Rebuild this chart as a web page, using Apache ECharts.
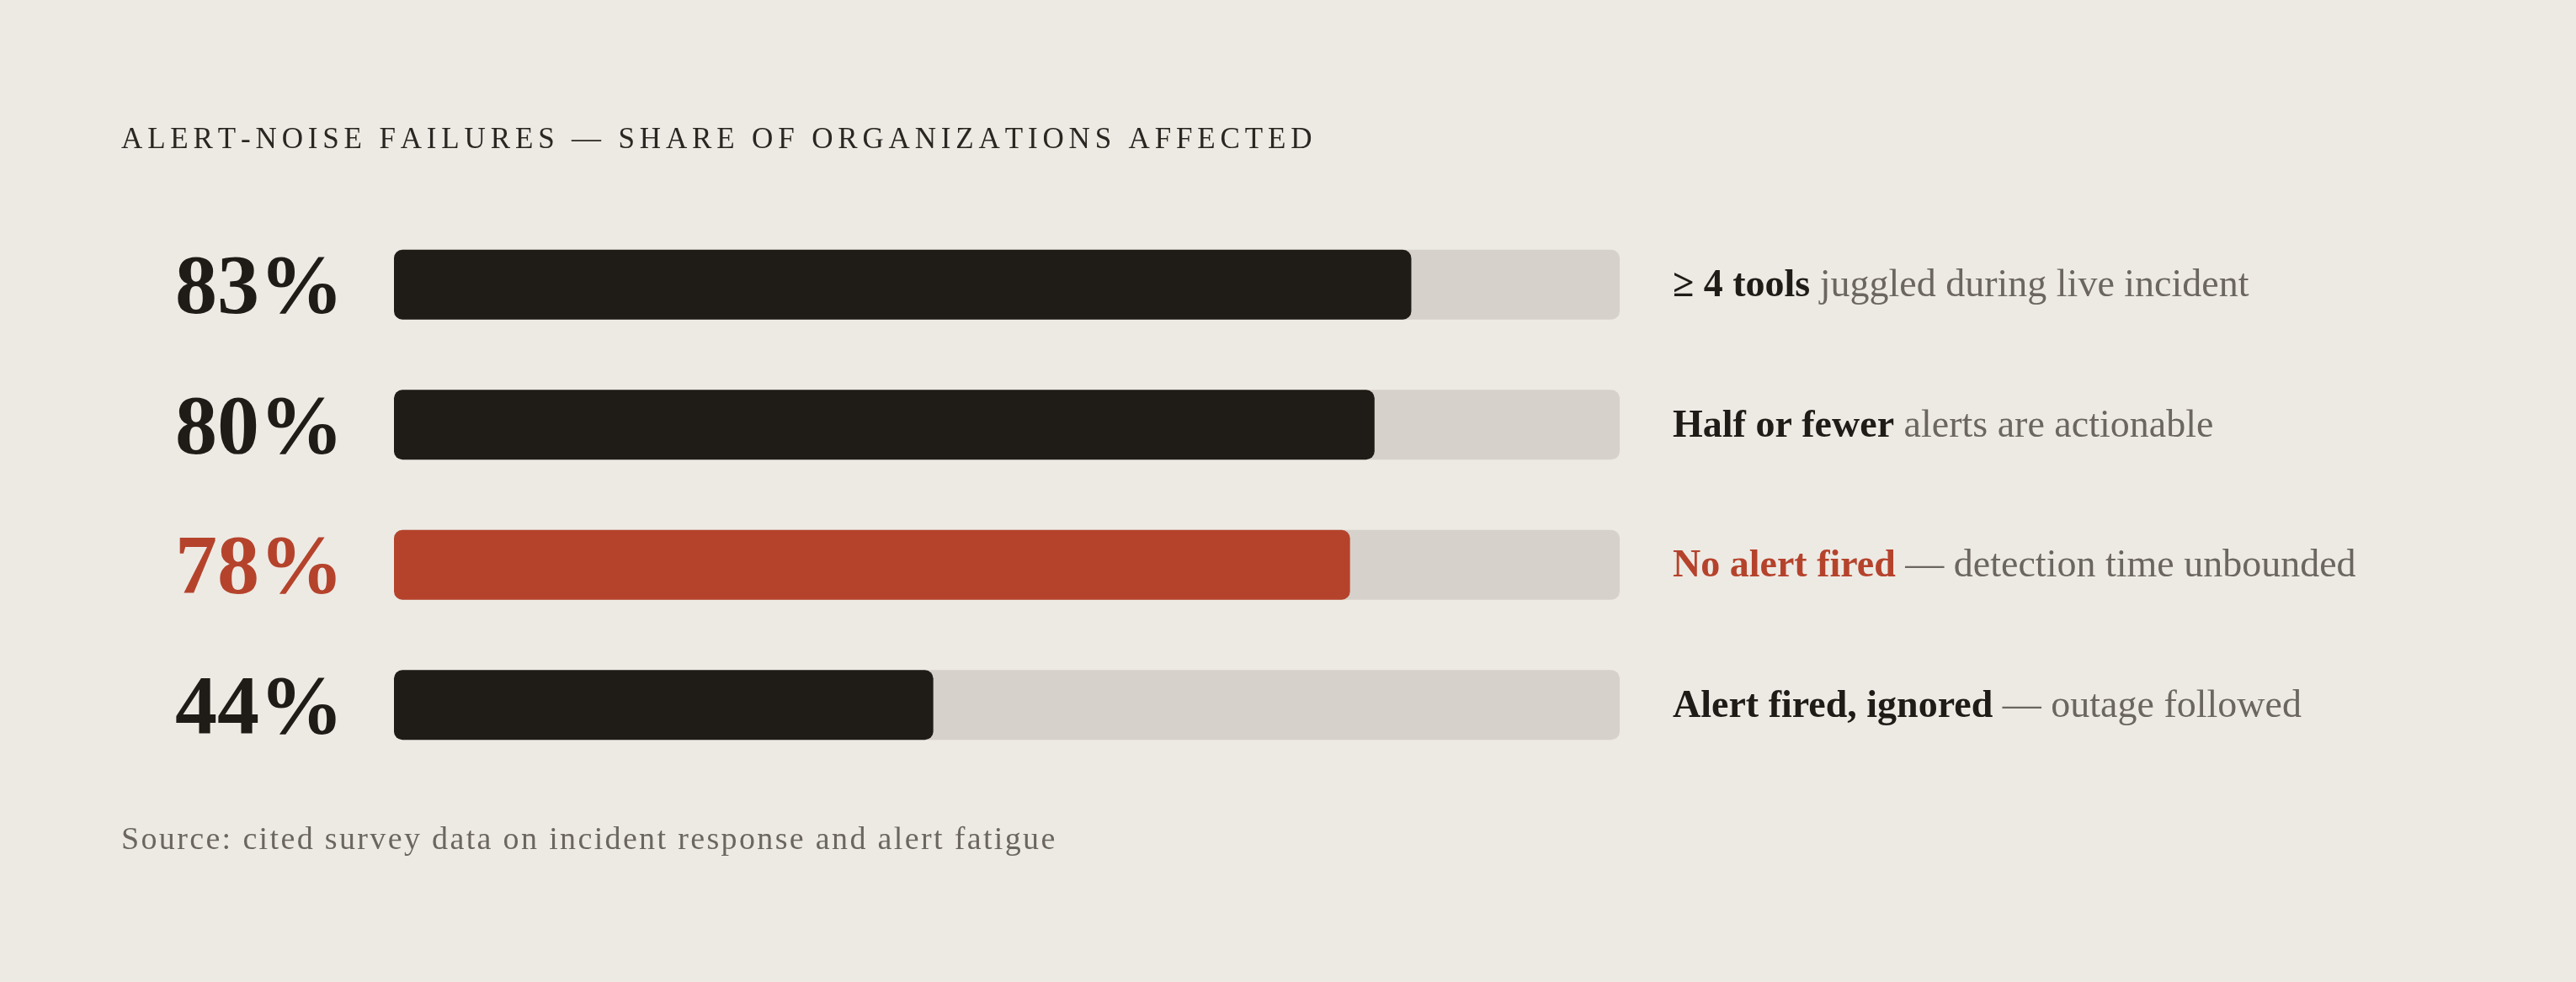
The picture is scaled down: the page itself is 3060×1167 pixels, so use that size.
<!DOCTYPE html>
<html>
<head>
<meta charset="utf-8">
<script src="https://cdn.jsdelivr.net/npm/echarts@6/dist/echarts.min.js"></script>
<style>
  html, body { margin: 0; padding: 0; background: #edeae4; }
  #chart { width: 3060px; height: 1167px; }
</style>
</head>
<body>
<div id="chart"></div>
<script>
// data
const categories = ['tools', 'actionable', 'no-alert', 'ignored'];
const shares = [83, 80, 78, 44];
const leadText = ['\u2265 4 tools', 'Half or fewer', 'No alert fired', 'Alert fired, ignored'];
const restText = [' juggled during live incident', ' alerts are actionable', ' \u2014 detection time unbounded', ' \u2014 outage followed'];
const highlightIndex = 2;
const scaleMax = 100;

const titleText = 'ALERT-NOISE FAILURES \u2014 SHARE OF ORGANIZATIONS AFFECTED';
const sourceText = 'Source: cited survey data on incident response and alert fatigue';

const INK = '#1f1b17';
const RED = '#b5432c';
const TRACK = '#d6d1ca';
const MUTED = '#6c6660';
const FONT = '"Liberation Serif", serif';

// letter-spaced text: each char is a rich token with right padding
const spaced = (s, key) => s.split('').map(ch => `{${key}|${ch}}`).join('');

const chart = echarts.init(document.getElementById('chart'));

chart.setOption({
  backgroundColor: '#edeae4',
  animation: false,
  title: [
    {
      text: spaced(titleText, 's'),
      left: 144, top: 147, padding: 0,
      textStyle: {
        rich: {
          s: { fontFamily: FONT, fontSize: 35, fontWeight: 'normal', color: '#2a2622', padding: [0, 5.85, 0, 0], lineHeight: 40 }
        }
      }
    },
    {
      text: spaced(sourceText, 'c'),
      left: 144, top: 979, padding: 0,
      textStyle: {
        rich: {
          c: { fontFamily: FONT, fontSize: 38, fontWeight: 'normal', color: MUTED, padding: [0, 2.35, 0, 0], lineHeight: 40 }
        }
      }
    }
  ],
  grid: { left: 468, right: 1136, top: 255, height: 666 },
  xAxis: { type: 'value', min: 0, max: scaleMax, show: false },
  yAxis: [
    {
      type: 'category', data: categories, inverse: true,
      axisLine: { show: false }, axisTick: { show: false },
      axisLabel: {
        margin: 60,
        formatter: (v, i) => `{${i === highlightIndex ? 'hi' : 'n'}|${shares[i]}%}`,
        rich: {
          n: { fontFamily: FONT, fontSize: 100, fontWeight: 'bold', color: INK, padding: [14, 0, 0, 0] },
          hi: { fontFamily: FONT, fontSize: 100, fontWeight: 'bold', color: RED, padding: [14, 0, 0, 0] }
        }
      }
    },
    {
      type: 'category', data: categories, inverse: true, position: 'right',
      axisLine: { show: false }, axisTick: { show: false },
      axisLabel: {
        margin: 63,
        formatter: (v, i) => `{${i === highlightIndex ? 'bh' : 'b'}|${leadText[i]}}{r|${restText[i]}}`,
        rich: {
          b: { fontFamily: FONT, fontSize: 46, fontWeight: 'bold', color: INK, padding: [4, 0, 0, 0] },
          bh: { fontFamily: FONT, fontSize: 46, fontWeight: 'bold', color: RED, padding: [4, 0, 0, 0] },
          r: { fontFamily: FONT, fontSize: 46, color: MUTED, padding: [4, 0, 0, 0] }
        }
      }
    }
  ],
  series: [
    {
      name: 'track', type: 'bar', barWidth: 83, silent: true,
      itemStyle: { color: TRACK, borderRadius: 10 },
      data: shares.map(() => scaleMax)
    },
    {
      name: 'share', type: 'bar', barWidth: 83, barGap: '-100%',
      itemStyle: { borderRadius: 10 },
      data: shares.map((v, i) => ({ value: v, itemStyle: { color: i === highlightIndex ? RED : INK } }))
    }
  ]
});

window.addEventListener('resize', () => chart.resize());
</script>
</body>
</html>
